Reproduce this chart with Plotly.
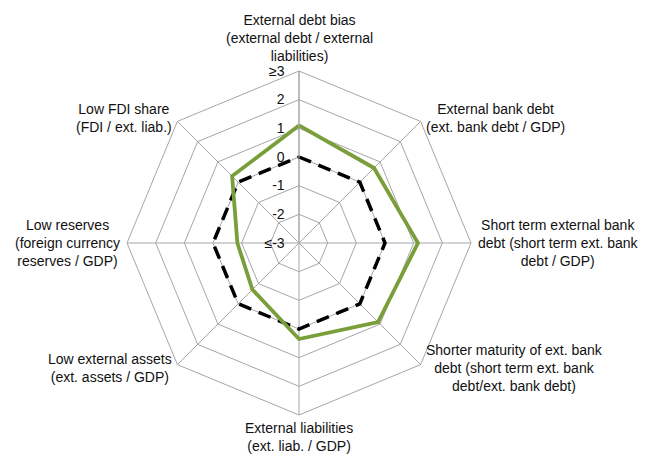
import math
import plotly.graph_objects as go

categories = [
    "External debt bias<br>(external debt / external<br>liabilities)",
    "External bank debt<br>(ext. bank debt / GDP)",
    "Short term external bank<br>debt (short term ext. bank<br>debt / GDP)",
    "Shorter maturity of ext. bank<br>debt (short term ext. bank<br>debt/ext. bank debt)",
    "External liabilities<br>(ext. liab. / GDP)",
    "Low external assets<br>(ext. assets / GDP)",
    "Low reserves<br>(foreign currency<br>reserves / GDP)",
    "Low FDI share<br>(FDI / ext. liab.)",
]
country_values = [1.1, 0.7, 1.15, 0.9, 0.35, -0.7, -0.85, 0.3]
reference_values = [0, 0, 0, 0, 0, 0, 0, 0]
tick_vals = [-3, -2, -1, 0, 1, 2, 3]
tick_text = ["≤-3", "-2", "-1", "0", "1", "2", "≥3"]

def closed(v):
    return list(v) + [v[0]]

fig = go.Figure()
fig.add_trace(go.Scatterpolar(
    r=closed(reference_values), theta=closed(categories), mode="lines",
    line=dict(color="black", width=3.5, dash="13px,8px"), showlegend=False,
))
fig.add_trace(go.Scatterpolar(
    r=closed(country_values), theta=closed(categories), mode="lines",
    line=dict(color="#7a9e3a", width=3.8), showlegend=False,
))

# page body has an 8px margin: figure sized to fit the window
W, H = 639, 446
cx, cy, R = 291, 235, 172
FONT = "Liberation Sans, Arial, sans-serif"

annotations = []
n = len(categories)
for i, lab in enumerate(categories):
    ang = math.radians(90 - 360 * i / n)
    dx, dy = math.cos(ang), math.sin(ang)
    gap = 5
    if abs(dx) < 1e-6:
        xa = "center"
        ya = "bottom" if dy > 0 else "top"
        if dy < 0:
            gap = 3
    else:
        xa = "left" if dx > 0 else "right"
        ya = "middle"
    x = cx + (R + gap) * dx
    y = cy - (R + gap) * dy
    annotations.append(dict(
        text=lab, x=x / W, y=1 - y / H, xref="paper", yref="paper",
        xanchor=xa, yanchor=ya, align="center", showarrow=False,
        font=dict(family=FONT, size=14, color="#111"),
    ))

fig.update_layout(
    width=W, height=H,
    margin=dict(l=0, r=0, t=0, b=0),
    paper_bgcolor="white", plot_bgcolor="white",
    font=dict(family=FONT, size=14, color="#111"),
    annotations=annotations,
    polar=dict(
        domain=dict(x=[(cx - R) / W, (cx + R) / W], y=[(H - cy - R) / H, (H - cy + R) / H]),
        bgcolor="white",
        gridshape="linear",
        radialaxis=dict(
            range=[-3, 3], tickvals=tick_vals, ticktext=tick_text,
            angle=90, tickangle=90, side="counterclockwise",
            showline=True, linecolor="#a6a6a6", linewidth=1,
            gridcolor="#a6a6a6", gridwidth=1,
            ticks="outside", ticklen=9, tickcolor="rgba(0,0,0,0)",
            tickfont=dict(family=FONT, size=14, color="#111"),
        ),
        angularaxis=dict(
            direction="clockwise", rotation=90, showticklabels=False,
            showline=True, linecolor="#a6a6a6", linewidth=1,
            gridcolor="#a6a6a6", gridwidth=1, ticks="",
        ),
    ),
)
fig.write_html("out.html")
